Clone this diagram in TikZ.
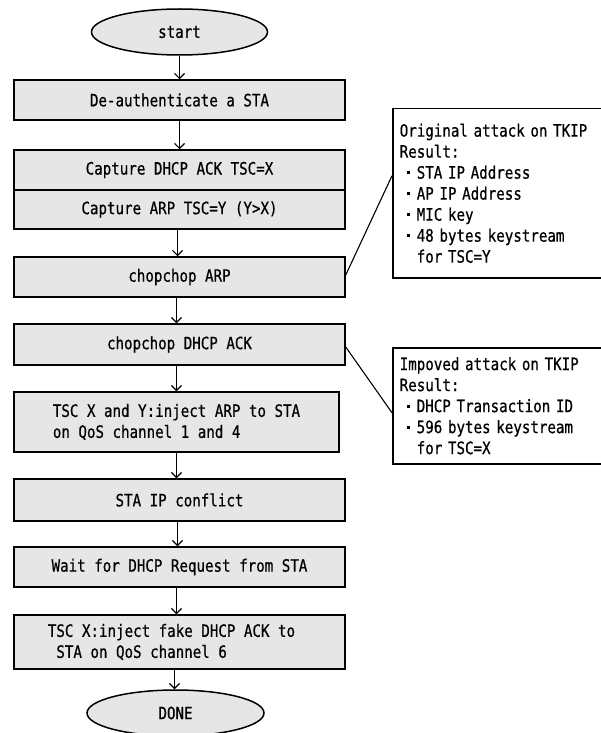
\documentclass[tikz,border=0pt]{standalone}
\usepackage{fontspec}
\usetikzlibrary{arrows.meta,shapes.geometric,calc}
\newfontfamily\jfont[FakeStretch=0.833,FakeBold=0.6]{DejaVu Sans Mono}
\definecolor{boxfill}{RGB}{230,230,230}
\newcommand\bul{\makebox[1em]{\rule[0.27em]{2.6pt}{2.6pt}}}
\begin{document}
\begin{tikzpicture}[x=1pt,y=-1pt,
  every node/.style={font=\jfont\fontsize{17}{21}\selectfont},
  stepbox/.style={draw, line width=1.5pt, fill=boxfill, rectangle, inner sep=0pt, minimum width=331pt},
  term/.style={draw, line width=1.5pt, fill=boxfill, ellipse, inner sep=0pt, minimum width=176pt, minimum height=46pt},
  note/.style={draw, line width=1.5pt, fill=white, rectangle, inner ysep=0pt, inner xsep=7pt, text width=250pt, align=left, anchor=north west},
  arr/.style={line width=1.1pt, -{Straight Barb[length=5pt,width=10pt]}},
  link/.style={line width=1.1pt}]
\useasboundingbox (0,0) rectangle (601,733);
\clip (0,0) rectangle (601,733);
\fill[white] (0,0) rectangle (601,733);

\node[term] (start) at (179.5,32) {start};
\node[stepbox, minimum height=40pt] (b1) at (179.5,100) {De-authenticate a STA};
\node[stepbox, minimum height=40pt] (b2) at (179.5,170) {Capture DHCP ACK TSC=X};
\node[stepbox, minimum height=39pt] (b3) at (179.5,209.5) {Capture ARP TSC=Y (Y>X)};
\node[stepbox, minimum height=40pt] (b4) at (179.5,277) {chopchop ARP};
\node[stepbox, minimum height=41pt] (b5) at (179.5,344.5) {chopchop DHCP ACK};
\node[stepbox, minimum width=325pt, minimum height=60pt, align=left] (b6) at (176.5,422)
  {TSC X and Y:inject ARP to STA\\on QoS channel 1 and 4};
\node[stepbox, minimum height=42pt] (b7) at (179.5,500) {STA IP conflict};
\node[stepbox, minimum height=40pt] (b8) at (179.5,567) {Wait for DHCP Request from STA};
\node[stepbox, minimum height=54pt, align=left] (b9) at (179.5,642)
  {TSC X:inject fake DHCP ACK to\hspace*{16pt}\\\hspace*{8.5pt}STA on QoS channel 6};
\node[term, minimum width=177pt] (done) at (175.5,713) {DONE};

\node[note, minimum height=169pt] (c1) at (392,108)
  {Original attack on TKIP\\Result:\\\bul STA IP Address\\\bul AP IP Address\\\bul MIC key\\\bul 48 bytes keystream\\\hspace*{17pt}for TSC=Y};
\node[note, minimum height=116pt] (c2) at (392,347)
  {Impoved attack on TKIP\\Result:\\\bul DHCP Transaction ID\\\bul 596 bytes keystream\\\hspace*{17pt}for TSC=X};

\draw[arr] (start.south) -- (start.south |- b1.north);
\draw[arr] (b1.south) -- (b1.south |- b2.north);
\draw[arr] ([xshift=-2pt]b3.south) -- ([xshift=-2pt]b3.south |- b4.north);
\draw[arr] ([xshift=-3pt]b4.south) -- ([xshift=-3pt]b4.south |- b5.north);
\draw[arr] ([xshift=-3pt]b5.south) -- ([xshift=-3pt]b5.south |- b6.north);
\draw[arr] (b6.south) -- (b6.south |- b7.north);
\draw[arr] ([xshift=-2pt]b7.south) -- ([xshift=-2pt]b7.south |- b8.north);
\draw[arr] ([xshift=-3pt]b8.south) -- ([xshift=-3pt]b8.south |- b9.north);
\draw[arr] ([xshift=-5pt]b9.south) -- ([xshift=-5pt]b9.south |- done.north);

\draw[link] ([yshift=2pt]b4.east) -- ([yshift=17.5pt]c1.west);
\draw[link] ([yshift=-2.5pt]b5.east) -- ([yshift=-7pt]c2.west);
\end{tikzpicture}
\end{document}
